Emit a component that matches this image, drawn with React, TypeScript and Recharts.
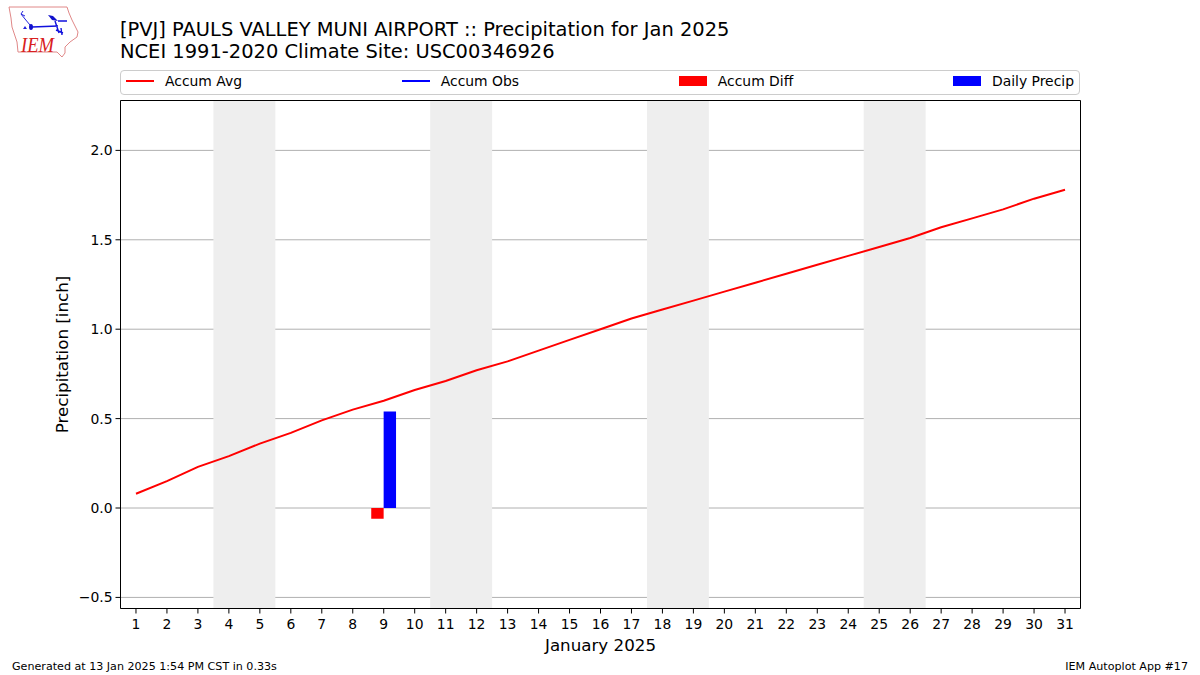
import { Bar, CartesianGrid, ComposedChart, Label, Legend, Line, ReferenceArea, XAxis, YAxis } from 'recharts'

const days = [1, 2, 3, 4, 5, 6, 7, 8, 9, 10, 11, 12, 13, 14, 15, 16, 17, 18, 19, 20, 21, 22, 23, 24, 25, 26, 27, 28, 29, 30, 31]
const accumAvg = [
  0.08, 0.15, 0.23, 0.29, 0.36, 0.42, 0.49, 0.55, 0.6, 0.66, 0.71, 0.77, 0.82, 0.88, 0.94, 1.0,
  1.06, 1.11, 1.16, 1.21, 1.26, 1.31, 1.36, 1.41, 1.46, 1.51, 1.57, 1.62, 1.67, 1.73, 1.78,
]
// only Jan 9 had anything, the rest stay empty
const accumDiff: Record<number, number> = { 9: -0.06 }
const dailyPrecip: Record<number, number> = { 9: 0.54 }
const weekends = [[3.5, 5.5], [10.5, 12.5], [17.5, 19.5], [24.5, 26.5]]
const yTicks = [-0.5, 0, 0.5, 1, 1.5, 2]

const chartData = days.map((day, i) => ({
  day,
  avg: accumAvg[i],
  obs: null,
  diff: accumDiff[day] ?? null,
  precip: dailyPrecip[day] ?? null,
}))

const font = '"DejaVu Sans", sans-serif'

const formatY = (v: number) => (v < 0 ? `\u2212${Math.abs(v).toFixed(1)}` : v.toFixed(1))

const LegendBox = ({ payload }: { payload?: any[] }) => (
  <div
    style={{
      display: 'flex',
      justifyContent: 'space-between',
      alignItems: 'center',
      boxSizing: 'border-box',
      width: 960,
      height: 25,
      padding: '0 5px 3px',
      border: '1px solid #cccccc',
      borderRadius: 4,
      background: '#fff',
      fontFamily: font,
      fontSize: 13.9,
      color: '#000',
    }}
  >
    {(payload ?? []).map((item) => (
      <div key={item.value} style={{ display: 'flex', alignItems: 'center' }}>
        {item.type === 'line' ? (
          <div style={{ width: 28, height: 2, background: item.color, marginRight: 11 }} />
        ) : (
          <div style={{ width: 28, height: 10, background: item.color, marginRight: 11 }} />
        )}
        {item.value}
      </div>
    ))}
  </div>
)

const Logo = () => (
  <svg width={90} height={65} viewBox="0 0 90 65" style={{ position: 'absolute', left: 0, top: 0 }}>
    <path
      d="M9 7 L67 7 L69 13 L72 20 L78 32 L77 37 L70 42 L65 47 L65 53 L62 57 L57 52 L18 52 L17 42 L12 27 L11 18 Z"
      fill="none"
      stroke="#e08888"
      strokeWidth={1}
    />
    <path d="M23 11 L21 14 L25 16 M21 14 L25 19 L30 25" fill="none" stroke="#2222dd" strokeWidth={1} />
    <path d="M25 26 L27 29 L23 29 Z" fill="#2222dd" />
    <ellipse cx={31} cy={27} rx={2} ry={3} fill="#1111cc" />
    <path d="M32 27 L58 26 M58 21 L67 21 M55 21 L59 33 M56 30 L63 33 M61 28 L62 35" fill="none" stroke="#1111dd" strokeWidth={1.4} />
    <path d="M48 15 L53 16 L58 21 L52 20 Z" fill="#1111cc" />
    <text x={21} y={52} fontFamily="'Liberation Serif', serif" fontStyle="italic" fontSize={20} textLength={33} lengthAdjust="spacingAndGlyphs" fill="#d82020">IEM</text>
  </svg>
)

export default function App() {
  return (
    <div style={{ position: 'fixed', left: 0, top: 0, width: 1200, height: 675, background: '#fff', fontFamily: font, color: '#000', overflow: 'hidden' }}>
      <Logo />
      <div style={{ position: 'absolute', left: 120, top: 19, fontSize: 19.44, lineHeight: '21.5px', whiteSpace: 'pre' }}>
        {'[PVJ] PAULS VALLEY MUNI AIRPORT :: Precipitation for Jan 2025\nNCEI 1991-2020 Climate Site: USC00346926'}
      </div>
      <ComposedChart
        width={1200}
        height={675}
        data={chartData}
        margin={{ top: 99.5, right: 118.5, bottom: 36.5, left: 60.5 }}
        barGap={0}
        barSize={12.4}
      >
        {weekends.map(([from, to]) => (
          <ReferenceArea key={from} x1={from} x2={to} fill="#eeeeee" fillOpacity={1} stroke="none" />
        ))}
        <CartesianGrid vertical={false} stroke="#b0b0b0" strokeWidth={1} />
        <XAxis
          dataKey="day"
          type="number"
          domain={[0.5, 31.5]}
          ticks={days}
          interval={0}
          allowDataOverflow
          height={30}
          stroke="#000"
          tick={{ fill: '#000', fontSize: 13.9, fontFamily: font }}
          tickSize={5}
          tickMargin={6}
        >
          <Label value="January 2025" position="insideBottom" offset={-12} fill="#000" fontSize={16.7} fontFamily={font} />
        </XAxis>
        <YAxis
          type="number"
          domain={[-0.562, 2.279]}
          ticks={yTicks}
          interval={0}
          allowDataOverflow
          width={60}
          stroke="#000"
          tick={{ fill: '#000', fontSize: 13.9, fontFamily: font }}
          tickFormatter={formatY}
          tickSize={5}
          tickMargin={3}
        >
          <Label value="Precipitation [inch]" angle={-90} position="insideLeft" offset={2} fill="#000" fontSize={16.7} fontFamily={font} style={{ textAnchor: 'middle' }} />
        </YAxis>
        {/* top and right edges of the frame */}
        <XAxis xAxisId="top" orientation="top" type="number" domain={[0.5, 31.5]} height={1} tick={false} tickLine={false} stroke="#000" />
        <YAxis yAxisId="right" orientation="right" type="number" domain={[-0.562, 2.279]} width={1} tick={false} tickLine={false} stroke="#000" />
        <Legend
          layout="vertical"
          align="center"
          verticalAlign="middle"
          itemSorter={null}
          wrapperStyle={{ top: 70, left: 120, width: 960, height: 25 }}
          content={<LegendBox />}
        />
        <Line dataKey="avg" name="Accum Avg" stroke="#ff0000" strokeWidth={2} dot={false} isAnimationActive={false} />
        <Line dataKey="obs" name="Accum Obs" stroke="#0000ff" strokeWidth={2} dot={false} isAnimationActive={false} />
        <Bar dataKey="diff" name="Accum Diff" fill="#ff0000" isAnimationActive={false} />
        <Bar dataKey="precip" name="Daily Precip" fill="#0000ff" isAnimationActive={false} />
      </ComposedChart>
      <div style={{ position: 'absolute', left: 12, top: 660, fontSize: 11.11, lineHeight: '13px' }}>
        Generated at 13 Jan 2025 1:54 PM CST in 0.33s
      </div>
      <div style={{ position: 'absolute', right: 12, top: 660, fontSize: 11.11, lineHeight: '13px' }}>
        IEM Autoplot App #17
      </div>
    </div>
  )
}
